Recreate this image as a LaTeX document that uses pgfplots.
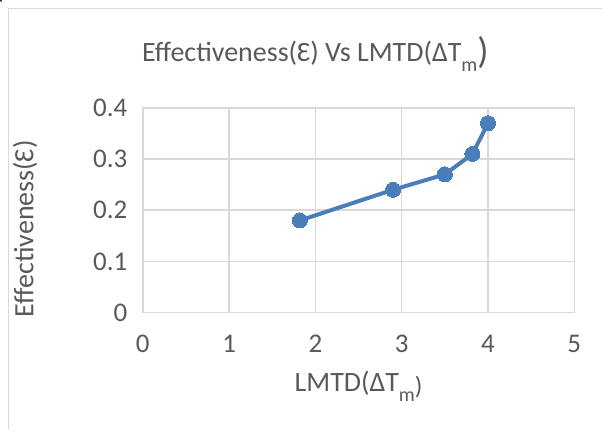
\documentclass[border=0pt]{standalone}
\usepackage{fontspec}
\setmainfont{Carlito}
\usepackage{pgfplots}
\pgfplotsset{compat=1.18}
\definecolor{txt}{HTML}{595959}
\definecolor{grd}{HTML}{D9D9D9}
\definecolor{ser}{HTML}{4A7EBB}
\newcommand{\subm}{\raisebox{-9.5pt}{\fontsize{20}{20}\selectfont m}}
\begin{document}
\begin{tikzpicture}[x=1pt,y=1pt]
\path (0,0) rectangle (603,430);
\draw[grd, line width=1.5pt] (8.5,0) -- (8.5,421.5) -- (603,421.5);
\fill[black] (1,429) circle (1);
\begin{axis}[
  at={(143pt,117pt)}, anchor=south west,
  scale only axis, width=432pt, height=205pt,
  xmin=0, xmax=5, ymin=0, ymax=0.4,
  xtick={0,1,2,3,4,5}, ytick={0,0.1,0.2,0.3,0.4},
  yticklabels={0,0.1,0.2,0.3,0.4},
  grid=major,
  major grid style={grd, line width=1.5pt},
  axis line style={grd, line width=1.5pt},
  tick style={draw=none},
  /pgf/number format/assume math mode=true,
  ticklabel style={font=\fontsize{27}{32}\selectfont, text=txt},
  xticklabel style={yshift=-19pt},
  yticklabel style={xshift=-12pt},
  title={Effectiveness(Ɛ) Vs LMTD(ΔT\subm\raisebox{-2pt}{\fontsize{37}{37}\selectfont )}},
  title style={font=\fontsize{28}{32}\selectfont, text=txt, at={(axis description cs:0.40,1.235)}, anchor=center},
  xlabel={LMTD(ΔT\subm\raisebox{-3pt}{\fontsize{25}{25}\selectfont )}},
  xlabel style={font=\fontsize{28}{32}\selectfont, text=txt, at={(axis description cs:0.5,-0.36)}, anchor=center},
  ylabel={Effectiveness(Ɛ)},
  ylabel style={font=\fontsize{28}{32}\selectfont, text=txt, at={(axis description cs:-0.273,0.41)}, anchor=center, rotate=0},
]
\addplot[ser, line width=4pt, mark=*, mark size=7.5pt, mark options={fill=ser, draw=ser, line width=0pt}]
  coordinates {(1.82,0.18) (2.9,0.24) (3.5,0.27) (3.82,0.31) (4.0,0.37)};
\end{axis}
\end{tikzpicture}
\end{document}
